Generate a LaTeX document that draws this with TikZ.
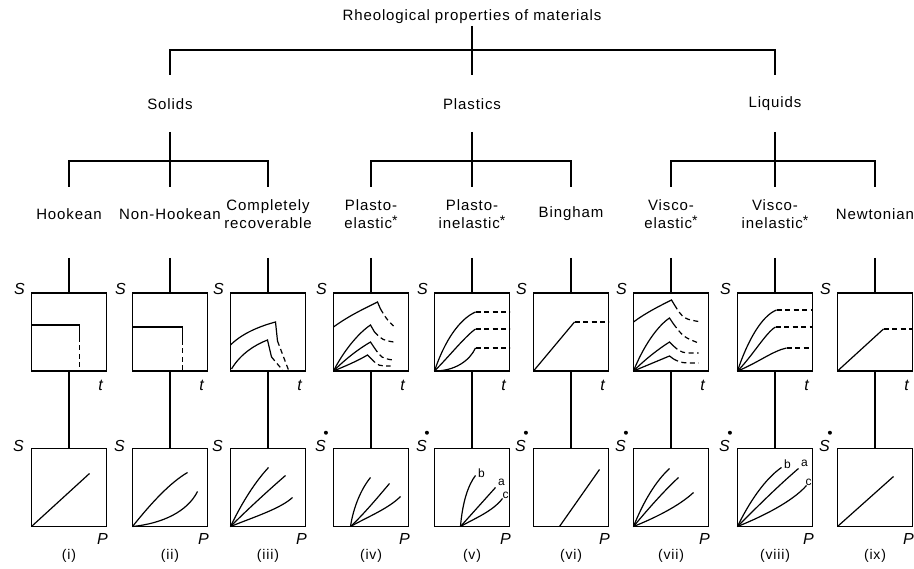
\documentclass[tikz,border=0pt]{standalone}
\usepackage{fontspec}
\setmainfont{Liberation Sans}[LetterSpace=6]
\usetikzlibrary{calc}
\newcommand{\astk}{\raisebox{0.2em}{\fontsize{14}{14}\selectfont *}}

\begin{document}
\begin{tikzpicture}[x=1pt,y=-1pt,line width=1.2pt,
  title node/.style={font=\fontsize{15}{17}\selectfont},
  kind node/.style={font=\fontsize{15}{18}\selectfont,align=center},
  plot box/.style={draw,minimum width=75pt,minimum height=78pt,inner sep=0pt,outer sep=0pt},
  axis label/.style={font=\fontsize{16}{18}\selectfont\itshape,inner sep=0pt},
  numeral/.style={font=\fontsize{14}{16}\selectfont},
  curve label/.style={font=\fontsize{12}{14}\selectfont,inner sep=0pt},
  fade/.style={dash pattern=on 5pt off 3.5pt}]

\useasboundingbox (0,0) rectangle (914,569);

% levels of the tree
\coordinate (lvlA) at (0,26);
\coordinate (barA) at (0,50);
\coordinate (endA) at (0,75);
\coordinate (lvlB) at (0,132);
\coordinate (barB) at (0,161);
\coordinate (endB) at (0,187);
\coordinate (lvlC) at (0,258);
\coordinate (topmid) at (0,332);
\coordinate (botmid) at (0,487.5);
\coordinate (numlvl) at (0,556);

\node[title node] (root) at (472,17) {Rheological properties of materials};
\node[title node] (solids) at (170,104) {Solids};
\node[title node] (plastics) at (472,104) {Plastics};
\node[title node] (liquids) at (775,104) {Liquids};

\foreach \n/\x/\t in {hookean/69/{Hookean}, nonhookean/170/{Non-Hookean},
  comprec/268/{Completely\\recoverable}, plastoel/371/{Plasto-\\elastic\astk},
  plastoinel/472/{Plasto-\\inelastic\astk}, bingham/571/{Bingham},
  viscoel/671/{Visco-\\elastic\astk}, viscoinel/775/{Visco-\\inelastic\astk},
  newtonian/875/{Newtonian}}{
  \node[kind node] (\n) at (\x,214) {\t};
}

\draw (root |- lvlA) -- (plastics |- endA);
\draw (solids |- endA) |- (liquids |- barA) -- (liquids |- endA);
\foreach \g/\a/\b/\m in {solids/hookean/comprec/nonhookean,
  plastics/plastoel/bingham/plastoinel, liquids/viscoel/newtonian/viscoinel}{
  \draw (\g |- lvlB) -- (\m |- endB);
  \draw (\a |- endB) |- (\b |- barB) -- (\b |- endB);
}

\foreach \n/\r [count=\c] in {hookean/i, nonhookean/ii, comprec/iii, plastoel/iv,
  plastoinel/v, bingham/vi, viscoel/vii, viscoinel/viii, newtonian/ix}{
  \node[plot box] (top\c) at (\n |- topmid) {};
  \node[plot box] (bot\c) at (\n |- botmid) {};
  \draw (\n |- lvlC) -- (top\c);
  \draw (top\c) -- (bot\c);
  \node[axis label] (s\c) at ([shift={(-12,-4)}]top\c.north west) {S};
  \node[axis label] (t\c) at ([shift={(-6,14)}]top\c.south east) {t};
  \node[axis label] (sb\c) at ([shift={(-13,-3)}]bot\c.north west) {S};
  \node[axis label] (p\c) at ([shift={(-4,12)}]bot\c.south east) {P};
  \node[numeral] (num\c) at (bot\c |- numlvl) {(\r)};
}
% rate dots
\foreach \c in {4,...,9}
  \fill ([shift={(-0.5,-6.5)}]sb\c.north east) circle (2pt);

% strain against time
\begin{scope}[shift={(top1.south west)},y=1pt]
  \draw (0,46) -- (48,46) -- (48,34);
  \draw[fade] (48,34) -- (48,0);
\end{scope}
\begin{scope}[shift={(top2.south west)},y=1pt]
  \draw (0,44) -- (50,44) -- (50,31);
  \draw[fade] (50,31) -- (50,0);
\end{scope}
\begin{scope}[shift={(top3.south west)},y=1pt]
  \draw (0,26) .. controls (12,38) and (30,45) .. (45,49) -- (47,30);
  \draw[fade] (47,30) -- (58,1);
  \draw (1,2) .. controls (10,17) and (24,26) .. (37,31) -- (41,14);
  \draw[fade] (41,14) -- (52,1);
\end{scope}
\begin{scope}[shift={(top4.south west)},y=1pt]
  \draw (0,44) .. controls (15,55) and (30,62) .. (44,69) -- (47,62);
  \draw[fade] (47,62) .. controls (53,52) .. (60,45);
  \draw (0,0) .. controls (10,20) and (25,38) .. (37,46) -- (41,39);
  \draw[fade] (41,39) .. controls (49,31) .. (60,29);
  \draw (0,0) .. controls (12,12) and (25,22) .. (37,29) -- (41,23);
  \draw[fade] (41,23) .. controls (48,13) .. (59,11);
  \draw (0,0) .. controls (12,5) and (24,10) .. (34,16) -- (38,12);
  \draw[fade] (38,12) .. controls (45,5) .. (57,5);
\end{scope}
\begin{scope}[shift={(top5.south west)},y=1pt]
  \draw (0,0) .. controls (10,30) and (25,52) .. (41,59);
  \draw[fade] (41,59) -- (75,59);
  \draw (0,0) .. controls (15,15) and (30,34) .. (41,42);
  \draw[fade] (41,42) -- (75,42);
  \draw (0,0) .. controls (20,0) and (35,10) .. (41,23);
  \draw[fade] (41,23) -- (75,23);
\end{scope}
\begin{scope}[shift={(top6.south west)},y=1pt]
  \draw (0,0) -- (41,49);
  \draw[fade] (41,49) -- (75,49);
\end{scope}
\begin{scope}[shift={(top7.south west)},y=1pt]
  \draw (0,49) .. controls (12,58) and (26,65) .. (38,71) -- (41,66);
  \draw[fade] (41,66) .. controls (50,52) .. (68,49);
  \draw (0,0) .. controls (10,25) and (24,45) .. (36,53) -- (40,47);
  \draw[fade] (40,47) .. controls (50,34) .. (65,28);
  \draw (0,0) .. controls (12,12) and (25,22) .. (36,29) -- (40,25);
  \draw[fade] (40,25) .. controls (48,18) .. (65,18);
  \draw (0,0) .. controls (12,5) and (24,10) .. (36,15) -- (40,12);
  \draw[fade] (40,12) .. controls (48,8) .. (65,8);
\end{scope}
\begin{scope}[shift={(top8.south west)},y=1pt]
  \draw (0,0) .. controls (10,30) and (24,55) .. (39,61);
  \draw[fade] (39,61) -- (75,61);
  \draw (0,0) .. controls (15,15) and (28,38) .. (38,44);
  \draw[fade] (38,44) -- (75,44);
  \draw (0,0) .. controls (20,8) and (35,20) .. (49,23);
  \draw[fade] (49,23) -- (75,23);
\end{scope}
\begin{scope}[shift={(top9.south west)},y=1pt]
  \draw (0,0) -- (46,42);
  \draw[fade] (46,42) -- (75,42);
\end{scope}

% strain rate against stress
\begin{scope}[shift={(bot1.south west)},y=1pt]
  \draw (0,0) -- (58,53);
\end{scope}
\begin{scope}[shift={(bot2.south west)},y=1pt]
  \draw (0,0) .. controls (20,25) and (38,44) .. (55,54);
  \draw (0,0) .. controls (30,3) and (55,15) .. (65,35);
\end{scope}
\begin{scope}[shift={(bot3.south west)},y=1pt]
  \draw (0,0) .. controls (12,25) and (25,45) .. (38,59);
  \draw (0,0) .. controls (18,18) and (40,38) .. (55,51);
  \draw (0,0) .. controls (25,10) and (50,18) .. (62,29);
\end{scope}
\begin{scope}[shift={(bot4.south west)},y=1pt]
  \draw (17,0) .. controls (20,20) and (28,38) .. (37,49);
  \draw (17,0) .. controls (30,12) and (45,30) .. (56,43);
  \draw (17,0) .. controls (35,10) and (55,18) .. (67,30);
\end{scope}
\begin{scope}[shift={(bot5.south west)},y=1pt]
  \draw (26,0) .. controls (28,25) and (34,42) .. (41,51);
  \draw (26,0) -- (61,39);
  \draw (26,0) .. controls (40,8) and (58,15) .. (68,28);
  \node[curve label] (lb5) at (47,53) {b};
  \node[curve label] (la5) at (67,44) {a};
  \node[curve label] (lc5) at (71,31) {c};
\end{scope}
\begin{scope}[shift={(bot6.south west)},y=1pt]
  \draw (26,0) -- (66,57);
\end{scope}
\begin{scope}[shift={(bot7.south west)},y=1pt]
  \draw (0,0) .. controls (10,25) and (22,45) .. (36,58);
  \draw (0,0) .. controls (15,18) and (30,35) .. (45,49);
  \draw (0,0) .. controls (20,8) and (45,20) .. (60,34);
\end{scope}
\begin{scope}[shift={(bot8.south west)},y=1pt]
  \draw (0,0) .. controls (12,25) and (28,48) .. (44,59);
  \draw (0,0) .. controls (20,20) and (40,40) .. (61,58);
  \draw (0,0) .. controls (25,10) and (55,25) .. (69,41);
  \node[curve label] (lb8) at (50,62) {b};
  \node[curve label] (la8) at (67,63) {a};
  \node[curve label] (lc8) at (71,44) {c};
\end{scope}
\begin{scope}[shift={(bot9.south west)},y=1pt]
  \draw (0,0) -- (56,50);
\end{scope}
\end{tikzpicture}
\end{document}
